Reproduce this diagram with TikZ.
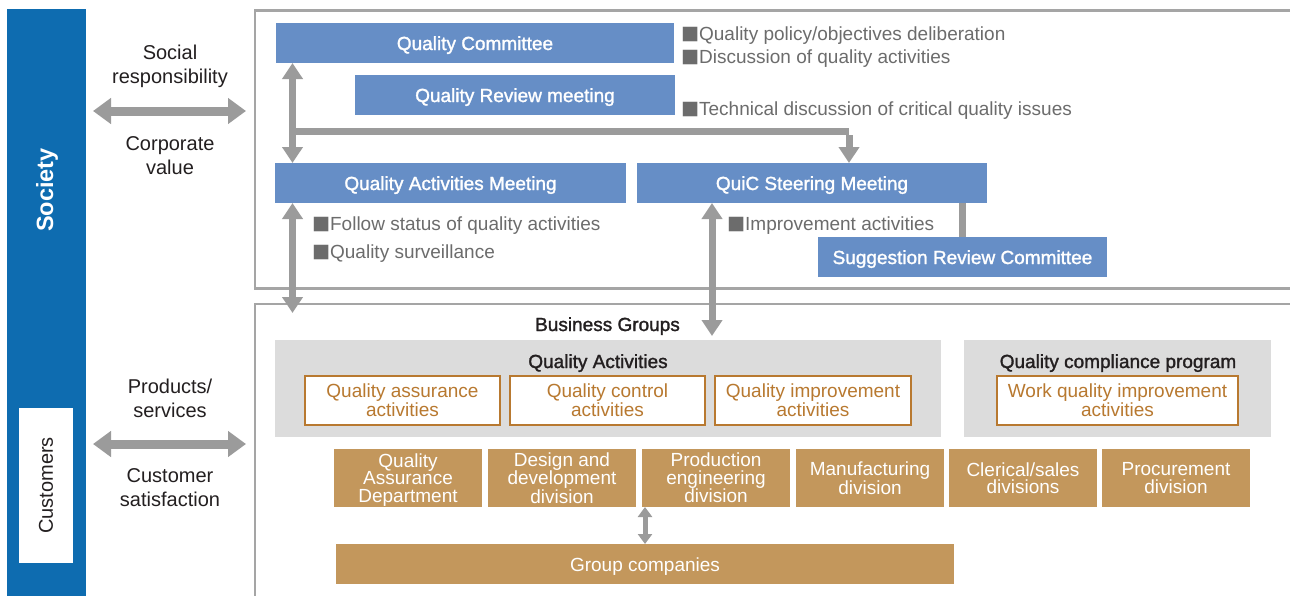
\documentclass[tikz,border=0pt]{standalone}
\usepackage{fontspec}
\setmainfont{Liberation Sans}
\newfontfamily\medfont[FakeBold=1.5]{Liberation Sans}
\usetikzlibrary{arrows.meta}
\definecolor{bandblue}{RGB}{14,108,176}
\definecolor{boxblue}{RGB}{102,142,198}
\definecolor{arrowgray}{RGB}{155,155,155}
\definecolor{framegray}{RGB}{165,165,165}
\definecolor{panelgray}{RGB}{220,220,220}
\definecolor{gcbrown}{RGB}{195,151,92}
\definecolor{qorange}{RGB}{184,121,48}
\definecolor{bulgray}{RGB}{108,108,108}
\definecolor{darktext}{RGB}{35,31,32}
\newcommand{\sqb}{\smash{\raisebox{-3.5pt}{\scalebox{1.58}{■}}}}
\begin{document}
\begin{tikzpicture}[x=1pt,y=-1pt,
  every node/.style={inner sep=0pt, outer sep=0pt},
  bluebox/.style={fill=boxblue, text=white, font=\medfont\fontsize{19}{22}\selectfont, minimum height=40pt, text height=14pt, text depth=0pt},
  lbl/.style={text=darktext, font=\fontsize{20}{24}\selectfont, align=center},
  bullet/.style={text=bulgray, font=\fontsize{19}{22}\selectfont, anchor=west, text height=14pt, text depth=0pt},
  sectitle/.style={text=darktext, font=\medfont\fontsize{19}{22}\selectfont, text height=14pt, text depth=0pt},
  panel/.style={fill=panelgray, minimum height=97pt},
  subbox/.style={draw=qorange, line width=1.2pt, fill=white, text=qorange, font=\fontsize{19}{19}\selectfont, align=center, minimum height=49pt},
  brownbox/.style={fill=gcbrown, text=white, font=\fontsize{19}{17.5}\selectfont, align=center, minimum width=148pt, minimum height=58pt, text depth=0pt},
  frame/.style={draw=framegray, line width=2.3pt},
  bigdouble/.style={draw=arrowgray, line width=9pt, {Triangle[width=25pt,length=18pt]}-{Triangle[width=25pt,length=18pt]}},
  vdouble/.style={draw=arrowgray, line width=7pt, {Triangle[width=20pt,length=16pt]}-{Triangle[width=20pt,length=16pt]}},
  vsingle/.style={draw=arrowgray, line width=7pt, -{Triangle[width=20pt,length=16pt]}},
  sdouble/.style={draw=arrowgray, line width=5pt, {Triangle[width=14pt,length=10pt]}-{Triangle[width=14pt,length=10pt]}},
  plainbar/.style={draw=arrowgray, line width=7pt},
]
\useasboundingbox (0,0) rectangle (1290,595);
\clip (0,0) rectangle (1290,595);
\fill[white] (0,0) rectangle (1290,595);

% left band
\node[fill=bandblue, minimum width=79pt, minimum height=600pt] (band) at (46.5,309) {};
\node[rotate=90, text=white, font=\bfseries\fontsize{23.5}{26}\selectfont] (society) at (47,190) {Society};
\node[rotate=90, fill=white, minimum width=155pt, minimum height=54pt, text=darktext, font=\fontsize{20}{24}\selectfont] (cust) at (46,485.5) {Customers};

% left labels
\node[lbl] (soc) at (170,66) {Social\\responsibility};
\node[lbl] (corp) at (170,156) {Corporate\\value};
\node[lbl] (prod) at (170,398.5) {Products/\\services};
\node[lbl] (csat) at (170,488) {Customer\\satisfaction};
\coordinate (la1) at (93,111);
\coordinate (ra1) at (246,111);
\coordinate (la2) at (93,444);
\coordinate (ra2) at (246,444);
\draw[bigdouble] (la1) -- (ra1);
\draw[bigdouble] (la2) -- (ra2);

% frames
\draw[frame] (255,10.5) rectangle (1310,288.5);
\draw[frame] (255,304) rectangle (1310,620);

% top blue boxes
\node[bluebox, minimum width=398pt] (qc) at (475,43) {Quality Committee};
\node[bluebox, minimum width=320pt] (qrm) at (515,95) {Quality Review meeting};
\node[bluebox, minimum width=351pt] (qam) at (450.5,183) {Quality Activities Meeting};
\node[bluebox, minimum width=350pt] (qsm) at (812,183) {QuiC Steering Meeting};
\node[bluebox, minimum width=289pt] (src) at (962.5,257) {Suggestion Review Committee};

% bullets
\node[bullet] (b1) at (681,33) {\sqb Quality policy/objectives deliberation};
\node[bullet] (b2) at (681,56) {\sqb Discussion of quality activities};
\node[bullet] (b3) at (681,108) {\sqb Technical discussion of critical quality issues};
\node[bullet] (b4) at (312,223) {\sqb Follow status of quality activities};
\node[bullet] (b5) at (312,251) {\sqb Quality surveillance};
\node[bullet] (b6) at (727,223) {\sqb Improvement activities};

% connectors in top area
\coordinate (j) at (292.5,131.5);
\coordinate (jr) at (849,131.5);
\coordinate (qx) at (712,0);
\coordinate (bgtip) at (292.5,313);
\coordinate (qtip) at (712,336);
\draw[vdouble] (j |- qc.south) -- (j |- qam.north);
\draw[plainbar] ([xshift=-3.5pt]j) -- (jr);
\draw[vsingle] ([yshift=-3.5pt]jr) -- (jr |- qsm.north);
\draw[vdouble] (j |- qam.south) -- (bgtip);
\draw[vdouble] (qx |- qsm.south) -- (qtip);
\draw[plainbar] (src.north |- qsm.south) -- (src.north);

% business groups
\node[sectitle] (bg) at (607.5,324) {Business Groups};
\node[panel, minimum width=666pt] (qapanel) at (608,388) {};
\node[panel, minimum width=307pt] (qcppanel) at (1117.5,388) {};
\node[sectitle] (qatitle) at (598,361) {Quality Activities};
\node[sectitle] (qcptitle) at (1118,361) {Quality compliance program};
\node[subbox, minimum width=195pt] (qaa) at (402.5,400.5) {Quality assurance\\activities};
\node[subbox, minimum width=195pt] (qca) at (607.5,400.5) {Quality control\\activities};
\node[subbox, minimum width=196pt] (qia) at (813,400.5) {Quality improvement\\activities};
\node[subbox, minimum width=241pt] (wqi) at (1117.5,400.5) {Work quality improvement\\activities};

% divisions
\node[brownbox] (qad) at (408,478) {Quality\\Assurance\\Department};
\node[brownbox] (ddd) at (562,478) {Design and\\development\\division};
\node[brownbox] (ped) at (716,478) {Production\\engineering\\division};
\node[brownbox] (mfd) at (870,478) {Manufacturing\\division};
\node[brownbox] (csd) at (1023,478) {Clerical/sales\\divisions};
\node[brownbox] (prd) at (1176,478) {Procurement\\division};
\node[fill=gcbrown, text=white, font=\fontsize{19}{22}\selectfont, minimum width=618pt, minimum height=40pt, text height=14pt, text depth=0pt] (gc) at (645,564) {Group companies};
\draw[sdouble] (gc.north) -- (gc.north |- ped.south);
\end{tikzpicture}
\end{document}
